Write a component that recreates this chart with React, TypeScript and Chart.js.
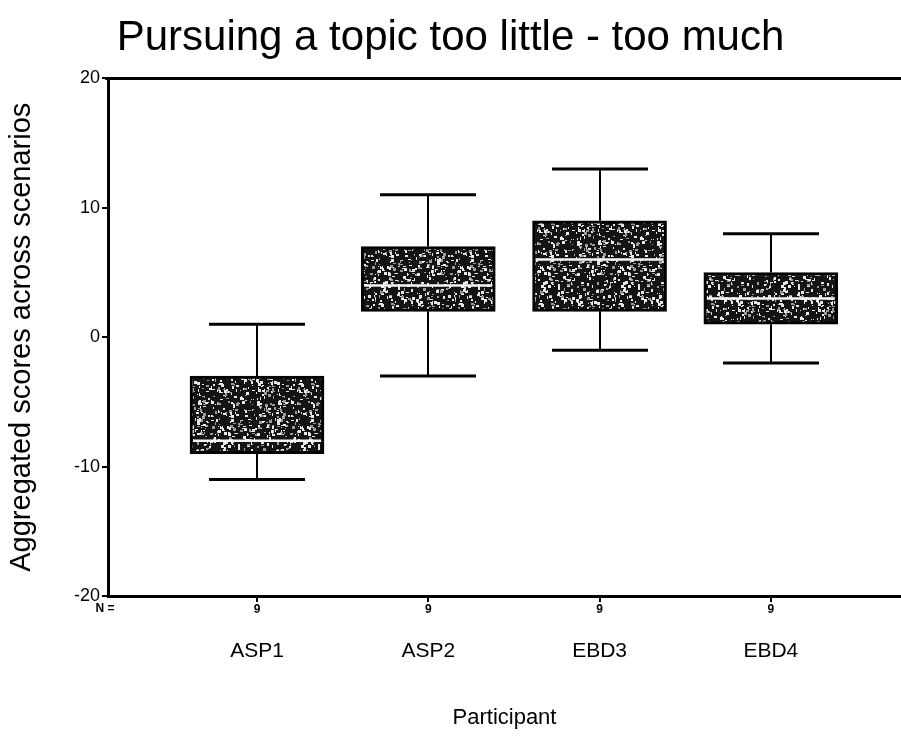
import React, { useEffect, useRef } from "react";
import { Chart, registerables } from "chart.js";

Chart.register(...registerables);

// Participants and their score summaries
const participants = ["ASP1", "ASP2", "EBD3", "EBD4"];
const positions = [1, 2, 3, 4];
const sampleSizes = [9, 9, 9, 9];
const whiskerLow = [-11, -3, -1, -2];
const quartileLow = [-9, 2, 2, 1];
const medians = [-8, 4, 6, 3];
const quartileHigh = [-3, 7, 9, 5];
const whiskerHigh = [1, 11, 13, 8];

const yTicks = [-20, -10, 0, 10, 20];

const FONT = "'Liberation Sans', Arial, Helvetica, sans-serif";

// Grainy dark fill used for the boxes
function makeSpeckle(): CanvasPattern | string {
  const c = document.createElement("canvas");
  c.width = 80;
  c.height = 80;
  const g = c.getContext("2d");
  if (!g) return "#333";
  g.fillStyle = "#141414";
  g.fillRect(0, 0, 80, 80);
  let s = 24680;
  const next = () => {
    s = (s * 16807) % 2147483647;
    return s / 2147483647;
  };
  for (let i = 0; i < 430; i++) {
    const x = Math.floor(next() * 80);
    const y = Math.floor(next() * 80);
    const w = 1 + Math.floor(next() * 3);
    const h = 1 + Math.floor(next() * 3);
    g.fillStyle = next() < 0.7 ? "#e6e6e6" : "#9a9a9a";
    g.fillRect(x, y, w, h);
  }
  return g.createPattern(c, "repeat") || "#333";
}

const boxPlotParts = {
  id: "boxPlotParts",
  beforeDatasetsDraw(chart: any) {
    const { ctx } = chart;
    const xs = chart.scales.x;
    const ys = chart.scales.y;
    ctx.save();
    ctx.strokeStyle = "#000";
    positions.forEach((p, i) => {
      const cx = Math.round(xs.getPixelForValue(p));
      const yLo = ys.getPixelForValue(whiskerLow[i]);
      const yQ1 = ys.getPixelForValue(quartileLow[i]);
      const yQ3 = ys.getPixelForValue(quartileHigh[i]);
      const yHi = ys.getPixelForValue(whiskerHigh[i]);
      ctx.lineWidth = 2;
      ctx.beginPath();
      ctx.moveTo(cx, yHi);
      ctx.lineTo(cx, yQ3);
      ctx.moveTo(cx, yQ1);
      ctx.lineTo(cx, yLo);
      ctx.stroke();
      ctx.lineWidth = 3;
      ctx.beginPath();
      ctx.moveTo(cx - 48, yHi);
      ctx.lineTo(cx + 48, yHi);
      ctx.moveTo(cx - 48, yLo);
      ctx.lineTo(cx + 48, yLo);
      ctx.stroke();
    });
    ctx.restore();
  },
  afterDatasetsDraw(chart: any) {
    const { ctx, chartArea } = chart;
    const xs = chart.scales.x;
    const ys = chart.scales.y;
    ctx.save();
    ctx.strokeStyle = "#f4f4f4";
    ctx.lineWidth = 2.5;
    positions.forEach((p, i) => {
      const cx = xs.getPixelForValue(p);
      const ym = ys.getPixelForValue(medians[i]);
      ctx.beginPath();
      ctx.moveTo(cx - 64, ym);
      ctx.lineTo(cx + 64, ym);
      ctx.stroke();
    });
    // frame line along the top of the plot
    ctx.strokeStyle = "#000";
    ctx.lineWidth = 3;
    ctx.beginPath();
    ctx.moveTo(chartArea.left - 3, chartArea.top);
    ctx.lineTo(chartArea.right, chartArea.top);
    ctx.stroke();
    // "N =" row caption
    ctx.fillStyle = "#000";
    ctx.font = `bold 12px ${FONT}`;
    ctx.textAlign = "center";
    ctx.textBaseline = "middle";
    ctx.fillText("N =", chartArea.left - 3, chartArea.bottom + 13);
    ctx.restore();
  },
};

export default function App() {
  const ref = useRef<HTMLCanvasElement | null>(null);

  useEffect(() => {
    if (!ref.current) return;
    const fill = makeSpeckle();
    const setTicks = (scale: any) => {
      scale.ticks = positions.map((v) => ({ value: v }));
    };
    const chart = new Chart(ref.current, {
      type: "bar",
      data: {
        datasets: [
          {
            data: positions.map((p, i) => ({ x: p, y: [quartileLow[i], quartileHigh[i]] })) as any,
            backgroundColor: fill as any,
            borderColor: "#000",
            borderWidth: 3,
            borderSkipped: false,
            barThickness: 134,
            xAxisID: "x",
            yAxisID: "y",
          },
        ],
      },
      options: {
        responsive: false,
        animation: false,
        layout: { padding: 0 },
        plugins: {
          legend: { display: false },
          tooltip: { enabled: false },
          title: {
            display: true,
            text: "Pursuing a topic too little - too much",
            color: "#000",
            font: { family: FONT, size: 42, weight: "normal" },
            padding: { top: 13, bottom: 15 },
          },
        },
        scales: {
          x: {
            type: "linear",
            position: "bottom",
            offset: false,
            min: 0.13,
            max: 4.76,
            afterBuildTicks: setTicks,
            afterFit: (s: any) => {
              s.height = 24;
            },
            ticks: {
              padding: 0,
              color: "#000",
              font: { family: FONT, size: 12, weight: "bold" },
              callback: (_v: any, i: number) => String(sampleSizes[i]),
            },
            grid: {
              offset: false,
              drawOnChartArea: false,
              drawTicks: true,
              tickLength: 6,
              lineWidth: 2,
              color: "#000",
            },
            border: { display: true, width: 3, color: "#000" },
          },
          xCat: {
            type: "linear",
            position: "bottom",
            offset: false,
            min: 0.13,
            max: 4.76,
            afterBuildTicks: setTicks,
            afterFit: (s: any) => {
              s.height = 116;
            },
            ticks: {
              padding: 19,
              color: "#000",
              font: { family: FONT, size: 21 },
              callback: (_v: any, i: number) => participants[i],
            },
            grid: { display: false, drawTicks: false, offset: false },
            border: { display: false },
            title: {
              display: true,
              text: "Participant",
              color: "#000",
              font: { family: FONT, size: 22 },
              padding: { top: 0, bottom: 5 },
            },
          },
          y: {
            type: "linear",
            min: -20,
            max: 20,
            afterBuildTicks: (s: any) => {
              s.ticks = yTicks.map((v) => ({ value: v }));
            },
            afterFit: (s: any) => {
              s.width = 108;
            },
            ticks: {
              padding: 2,
              color: "#000",
              font: { family: FONT, size: 18 },
            },
            grid: {
              drawOnChartArea: false,
              drawTicks: true,
              tickLength: 6,
              lineWidth: 2,
              color: "#000",
            },
            border: { display: true, width: 3, color: "#000" },
            title: {
              display: true,
              text: "Aggregated scores across scenarios",
              color: "#000",
              font: { family: FONT, size: 29 },
              padding: { top: 5, bottom: 0 },
            },
          },
        },
      },
      plugins: [boxPlotParts],
    });
    return () => chart.destroy();
  }, []);

  return (
    <div style={{ position: "absolute", left: 0, top: 0, width: 901, height: 736, background: "#fff" }}>
      <canvas ref={ref} width={901} height={736} />
    </div>
  );
}
